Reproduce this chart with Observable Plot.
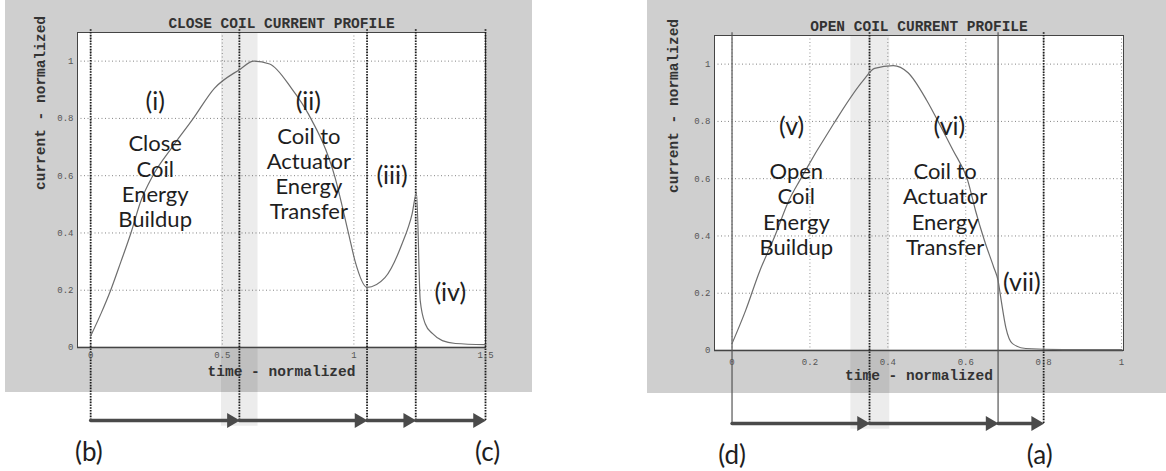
<!DOCTYPE html>
<html><head><meta charset="utf-8">
<script src="https://cdn.jsdelivr.net/npm/d3@7"></script>
<script src="https://cdn.jsdelivr.net/npm/@observablehq/plot@0.6"></script>
<style>
html,body{margin:0;padding:0;background:#fff;}
#root{position:relative;width:1166px;height:471px;overflow:hidden;background:#fff;}
.panel{position:absolute;background:#cfcfcf;}
#root svg{position:absolute;top:0;overflow:visible;}
</style></head><body>
<div id="root">
  <div class="panel" style="left:5px;top:0;width:527px;height:392px"></div>
  <div class="panel" style="left:647px;top:0;width:519px;height:393px"></div>
</div>
<script>
// ---------- DATA ----------
// Close coil current profile (normalized time, normalized current)
const closeTime    = [0, 0.04, 0.076, 0.115, 0.153, 0.19, 0.236, 0.31, 0.39, 0.47, 0.565, 0.62, 0.68, 0.763, 0.828, 0.928, 0.98, 1.005, 1.05, 1.118, 1.183, 1.221, 1.238, 1.252, 1.271, 1.298, 1.336, 1.386, 1.5];
const closeCurrent = [0.04, 0.12, 0.2, 0.3, 0.4, 0.51, 0.6, 0.7, 0.8, 0.905, 0.97, 1.0, 0.99, 0.905, 0.814, 0.595, 0.397, 0.30, 0.21, 0.244, 0.362, 0.466, 0.54, 0.164, 0.083, 0.049, 0.024, 0.014, 0.01];
// Open coil current profile
const openTime    = [0, 0.035, 0.069, 0.11, 0.146, 0.174, 0.26, 0.337, 0.366, 0.414, 0.452, 0.5, 0.529, 0.567, 0.605, 0.625, 0.648, 0.672, 0.683, 0.691, 0.703, 0.72, 0.754, 0.85, 1.0];
const openCurrent = [0.024, 0.14, 0.27, 0.4, 0.524, 0.594, 0.79, 0.943, 0.985, 0.995, 0.97, 0.873, 0.80, 0.70, 0.594, 0.489, 0.384, 0.29, 0.244, 0.175, 0.08, 0.024, 0.007, 0.003, 0.003];

// Phase boundaries (normalized time)
const closePhaseBounds = [0, 0.565, 1.05, 1.235, 1.5];
const closeBand = [0.497, 0.636];
const openPhaseBoundsDotted = [0.353, 0.80];
const openPhaseBoundsSolid = [0, 0.683];
const openPhaseBounds = [0, 0.353, 0.683, 0.80];
const openBand = [0.305, 0.405];

// Tick labels
const closeXTicks = [0, 0.5, 1, 1.5];
const openXTicks = [0, 0.2, 0.4, 0.6, 0.8, 1];
const yTicks = [0, 0.2, 0.4, 0.6, 0.8, 1];

// Phase numerals
const closeNumText = ["(i)", "(ii)", "(iii)", "(iv)"];
const closeNumTime = [0.245, 0.827, 1.145, 1.366];
const closeNumCurrent = [0.859, 0.859, 0.60, 0.19];
const openNumText = ["(v)", "(vi)", "(vii)"];
const openNumTime = [0.153, 0.558, 0.744];
const openNumCurrent = [0.782, 0.782, 0.237];
// Phase descriptions
const closeDescText = ["Close\nCoil\nEnergy\nBuildup", "Coil to\nActuator\nEnergy\nTransfer"];
const closeDescTime = [0.245, 0.829];
const closeDescCurrent = [0.581, 0.608];
const openDescText = ["Open\nCoil\nEnergy\nBuildup", "Coil to\nActuator\nEnergy\nTransfer"];
const openDescTime = [0.165, 0.547];
const openDescCurrent = [0.494, 0.494];

// End labels
const closeEndLabels = ["(b)", "(c)"];
const closeEndTime = [-0.007, 1.508];
const openEndLabels = ["(d)", "(a)"];
const openEndTime = [0, 0.79];

const titles = ["CLOSE COIL CURRENT PROFILE", "OPEN COIL CURRENT PROFILE"];
const xLabel = "time - normalized";
const yLabel = "current - normalized";

// ---------- BUILD ----------
const mono = "'Liberation Mono','DejaVu Sans Mono',monospace";
const annFont = "Lato,'Open Sans',sans-serif";
const ARROW_Y = -0.255;
const LABEL_Y = -0.368;

function panel(cfg) {
  const curve = cfg.t.map((t, i) => ({t, v: cfg.v[i]}));
  const segs = cfg.bounds.slice(1).map((e, i) => ({s: cfg.bounds[i], e}));
  const nums = cfg.numText.map((s, i) => ({s, t: cfg.numT[i], v: cfg.numV[i]}));
  const descs = cfg.descText.map((s, i) => ({s, t: cfg.descT[i], v: cfg.descV[i]}));
  const ends = cfg.endText.map((s, i) => ({s, t: cfg.endT[i]}));
  const bandRow = [{a: cfg.band[0], b: cfg.band[1]}];
  const marks = [
    Plot.frame({fill: "white"}),
    Plot.gridY(yTicks, {stroke: "#666", strokeOpacity: 0.8, strokeDasharray: "1,2.5"}),
    Plot.gridX(cfg.xTicks, {stroke: "#666", strokeOpacity: 0.7, strokeDasharray: "1,2.5"}),
    Plot.rect(bandRow, {x1: "a", x2: "b", y1: ARROW_Y - 0.02, y2: 1.1, fill: "#000", fillOpacity: 0.075}),
    Plot.ruleY([0], {stroke: "#8a8a8a", strokeWidth: 2}),
    Plot.frame({stroke: "#444"}),
    Plot.ruleX(cfg.dotted, {y1: ARROW_Y, y2: 1.11, stroke: "#1a1a1a", strokeWidth: 1.8, strokeDasharray: "1.6,1.2"}),
    Plot.ruleX(cfg.solid, {y1: ARROW_Y, y2: 1.11, stroke: "#555", strokeWidth: 1.2}),
    Plot.line(curve, {x: "t", y: "v", stroke: "#6e6e6e", strokeWidth: 1.2, curve: "monotone-x"}),
    Plot.arrow(segs, {x1: "s", x2: "e", y1: ARROW_Y, y2: ARROW_Y, stroke: "#4a4a4a", strokeWidth: 3.4, headLength: 0, insetEnd: 10}),
    Plot.dot(segs, {x: "e", y: ARROW_Y, symbol: "triangle", r: 5.5, rotate: 90, fill: "#4a4a4a", stroke: "none", dx: -8}),
    Plot.axisY(yTicks, {tickSize: 0, tickPadding: 4, fontSize: 9, fill: "#555", tickFormat: d => String(d), label: null}),
    Plot.axisX(cfg.xTicks, {tickSize: 0, tickPadding: cfg.xPad, fontSize: 9, fill: "#555", tickFormat: d => String(d), label: null}),
    Plot.text([cfg.title], {frameAnchor: "top", dy: -15, fontFamily: mono, fontSize: 14.5, fontWeight: "bold", fill: "#333"}),
    Plot.text([xLabel], {frameAnchor: "bottom", dy: cfg.xLabDy, fontFamily: mono, fontSize: 14.5, fontWeight: "bold", fill: "#333"}),
    Plot.text([yLabel], {frameAnchor: "left", dx: cfg.yLabDx, rotate: -90, fontFamily: mono, fontSize: 14.5, fontWeight: "bold", fill: "#333"}),
    Plot.text(nums, {x: "t", y: "v", text: "s", fontFamily: annFont, fontSize: 25, fill: "#1e1e1e"}),
    Plot.text(descs, {x: "t", y: "v", text: "s", fontFamily: annFont, fontSize: 22, lineHeight: 1.15, fill: "#1e1e1e", ariaLabel: "desc"}),
    Plot.text(ends, {x: "t", y: LABEL_Y, text: "s", fontFamily: annFont, fontSize: 26, fill: "#1e1e1e"})
  ];
  const svg = Plot.plot({
    width: cfg.width, height: 471,
    marginLeft: cfg.ml, marginRight: cfg.mr, marginTop: cfg.mt, marginBottom: cfg.mb,
    x: {domain: cfg.xDomain},
    y: {domain: [0, 1.1]},
    style: {background: "transparent", fontFamily: mono, overflow: "visible"},
    marks
  });
  svg.style.left = cfg.left + "px";
  // slightly condense the descriptive text (reference uses a narrow face)
  svg.querySelectorAll('g[aria-label="desc"] text').forEach(el => {
    const tr = el.getAttribute("transform") || "";
    el.setAttribute("transform", tr + " scale(0.84,1)");
  });
  document.getElementById("root").appendChild(svg);
}

panel({
  left: 0, width: 580, ml: 77, mr: 95, mt: 32, mb: 124, xDomain: [-0.05, 1.5],
  t: closeTime, v: closeCurrent, bounds: closePhaseBounds, dotted: closePhaseBounds, solid: [],
  band: closeBand, xTicks: closeXTicks,
  numText: closeNumText, numT: closeNumTime, numV: closeNumCurrent,
  descText: closeDescText, descT: closeDescTime, descV: closeDescCurrent,
  endText: closeEndLabels, endT: closeEndTime, title: titles[0], xPad: 4, xLabDy: 28, yLabDx: -37
});
panel({
  left: 580, width: 586, ml: 134, mr: 43, mt: 35, mb: 121, xDomain: [-0.045, 1.005],
  t: openTime, v: openCurrent, bounds: openPhaseBounds, dotted: openPhaseBoundsDotted, solid: openPhaseBoundsSolid,
  band: openBand, xTicks: openXTicks,
  numText: openNumText, numT: openNumTime, numV: openNumCurrent,
  descText: openDescText, descT: openDescTime, descV: openDescCurrent,
  endText: openEndLabels, endT: openEndTime, title: titles[1], xPad: 8, xLabDy: 29, yLabDx: -41
});
</script>
</body></html>
